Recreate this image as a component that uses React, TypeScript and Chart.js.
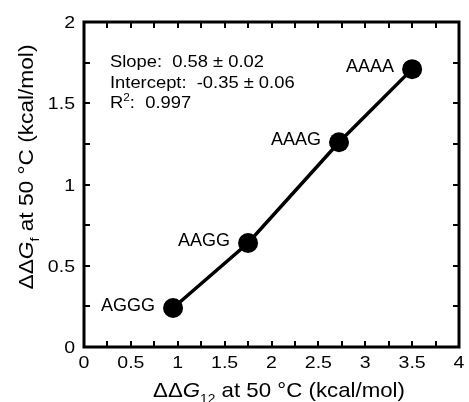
import React, { useEffect, useRef } from 'react';
import { Chart, registerables } from 'chart.js';

Chart.register(...registerables);

// ---- data ----
const sequences = ['AGGG', 'AAGG', 'AAAG', 'AAAA'];
const ddG12 = [0.95, 1.75, 2.72, 3.5];
const ddGf = [0.24, 0.64, 1.26, 1.71];

const xTickValues = [0, 0.5, 1, 1.5, 2, 2.5, 3, 3.5, 4];
const xTickLabels = ['0', '0.5', '1', '1.5', '2', '2.5', '3', '3.5', '4'];
const yTickValues = [0, 0.5, 1, 1.5, 2];
const yTickLabels = ['0', '0.5', '1', '1.5', '2'];
const xMinorTicks = [0.25, 0.5, 0.75, 1, 1.25, 1.5, 1.75, 2, 2.25, 2.5, 2.75, 3, 3.25, 3.5, 3.75];
const yMinorTicks = [0.25, 0.5, 0.75, 1, 1.25, 1.5, 1.75];

const slopeText = 'Slope:  0.58 \u00b1 0.02';
const interceptText = 'Intercept:  -0.35 \u00b1 0.06';
const r2Text = '0.997';

const FONT = '"Liberation Sans", Arial, Helvetica, sans-serif';

type Seg = { t: string; italic?: boolean; sub?: boolean; sup?: boolean };

function segFont(s: Seg, size: number) {
  const sz = s.sub || s.sup ? Math.round(size * 0.62) : size;
  return `${s.italic ? 'italic ' : ''}${sz}px ${FONT}`;
}

function drawRich(
  ctx: CanvasRenderingContext2D,
  segs: Seg[],
  x: number,
  y: number,
  size: number,
  sx: number,
  align: 'left' | 'center' | 'right'
) {
  ctx.save();
  ctx.textBaseline = 'alphabetic';
  ctx.textAlign = 'left';
  let total = 0;
  const widths = segs.map((s) => {
    ctx.font = segFont(s, size);
    const w = ctx.measureText(s.t).width;
    total += w;
    return w;
  });
  let start = x;
  if (align === 'center') start = x - (total * sx) / 2;
  if (align === 'right') start = x - total * sx;
  ctx.translate(start, y);
  ctx.scale(sx, 1);
  let off = 0;
  segs.forEach((s, i) => {
    ctx.font = segFont(s, size);
    const dy = s.sub ? size * 0.3 : s.sup ? -size * 0.4 : 0;
    ctx.fillText(s.t, off, dy);
    off += widths[i];
  });
  ctx.restore();
}

const decorPlugin = {
  id: 'decor',
  afterDatasetsDraw(chart: any) {
    const ctx: CanvasRenderingContext2D = chart.ctx;
    const { left, right, top, bottom } = chart.chartArea;
    const xs = chart.scales.x;
    const ys = chart.scales.y;
    ctx.save();
    ctx.fillStyle = '#000';
    ctx.strokeStyle = '#000';

    // frame
    ctx.lineWidth = 3;
    ctx.strokeRect(left, top, right - left, bottom - top);

    // inward ticks
    ctx.lineWidth = 2;
    const tl = 6;
    ctx.beginPath();
    xMinorTicks.forEach((v) => {
      const px = Math.round(xs.getPixelForValue(v));
      ctx.moveTo(px, bottom);
      ctx.lineTo(px, bottom - tl);
      ctx.moveTo(px, top);
      ctx.lineTo(px, top + tl);
    });
    yMinorTicks.forEach((v) => {
      const py = Math.round(ys.getPixelForValue(v));
      ctx.moveTo(left, py);
      ctx.lineTo(left + tl, py);
      ctx.moveTo(right, py);
      ctx.lineTo(right - tl, py);
    });
    ctx.stroke();

    // tick labels
    xTickValues.forEach((v, i) => {
      const px = xs.getPixelForValue(v);
      drawRich(ctx, [{ t: xTickLabels[i] }], px, 368, 16, 1.22, 'center');
    });
    yTickValues.forEach((v, i) => {
      const py = ys.getPixelForValue(v);
      drawRich(ctx, [{ t: yTickLabels[i] }], 75, py + 6, 16, 1.22, 'right');
    });

    // axis titles
    drawRich(
      ctx,
      [{ t: '\u0394\u0394' }, { t: 'G', italic: true }, { t: '12', sub: true }, { t: ' at 50 \u00b0C (kcal/mol)' }],
      279,
      397,
      21,
      1.06,
      'center'
    );
    ctx.save();
    ctx.translate(33, 167);
    ctx.rotate(-Math.PI / 2);
    drawRich(
      ctx,
      [{ t: '\u0394\u0394' }, { t: 'G', italic: true }, { t: 'f', sub: true }, { t: ' at 50 \u00b0C (kcal/mol)' }],
      0,
      0,
      21,
      1.08,
      'center'
    );
    ctx.restore();

    // fit statistics
    drawRich(ctx, [{ t: slopeText }], 110, 67, 17, 1.08, 'left');
    drawRich(ctx, [{ t: interceptText }], 110, 87.5, 17, 1.08, 'left');
    drawRich(ctx, [{ t: 'R' }, { t: '2', sup: true }, { t: ':  ' + r2Text }], 110, 107.5, 17, 1.08, 'left');

    // point labels
    const meta = chart.getDatasetMeta(0);
    meta.data.forEach((pt: any, i: number) => {
      drawRich(ctx, [{ t: sequences[i] }], pt.x - 18, pt.y + 3, 18, 1.0, 'right');
    });

    ctx.restore();
  },
};

export default function App() {
  const ref = useRef<HTMLCanvasElement | null>(null);
  useEffect(() => {
    if (!ref.current) return;
    const chart = new Chart(ref.current, {
      type: 'scatter',
      data: {
        datasets: [
          {
            data: ddG12.map((x, i) => ({ x, y: ddGf[i] })),
            showLine: true,
            borderColor: '#000',
            borderWidth: 3.5,
            backgroundColor: '#000',
            pointBackgroundColor: '#000',
            pointBorderColor: '#000',
            pointRadius: 10,
            pointBorderWidth: 0,
          },
        ],
      },
      options: {
        animation: false,
        responsive: false,
        events: [],
        layout: { padding: { top: 22, right: 6, left: 0, bottom: 0 } },
        plugins: { legend: { display: false }, tooltip: { enabled: false } },
        scales: {
          x: {
            type: 'linear',
            min: 0,
            max: 4,
            grid: { display: false },
            border: { display: false },
            ticks: { display: false },
            afterFit: (s: any) => {
              s.height = 55;
            },
          },
          y: {
            type: 'linear',
            min: 0,
            max: 2,
            grid: { display: false },
            border: { display: false },
            ticks: { display: false },
            afterFit: (s: any) => {
              s.width = 84;
            },
          },
        },
      },
      plugins: [decorPlugin],
    });
    return () => chart.destroy();
  }, []);
  return (
    <div style={{ position: 'absolute', left: 0, top: 0, width: 469, height: 402, background: '#fff' }}>
      <canvas ref={ref} width={469} height={402} style={{ display: 'block' }} />
    </div>
  );
}
